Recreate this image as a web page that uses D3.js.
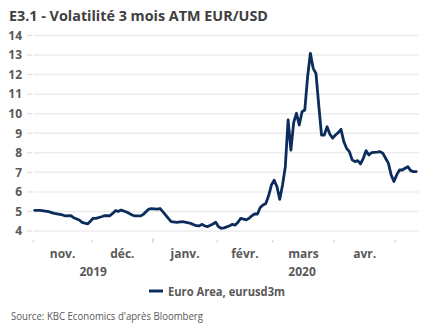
<!DOCTYPE html>
<html><head><meta charset="utf-8">
<script src="https://cdn.jsdelivr.net/npm/d3@7"></script>
<style>
html,body{margin:0;padding:0;background:#fff;}
svg{display:block;}
text{font-family:"Open Sans","Noto Sans",sans-serif;}
</style></head>
<body>
<script>
// ---- data ----
const title = "E3.1 - Volatilité 3 mois ATM EUR/USD";
const seriesName = "Euro Area, eurusd3m";
const source = "Source: KBC Economics d'après Bloomberg";
const yTicks = [4,5,6,7,8,9,10,11,12,13,14];
const monthLabels = ["nov.","déc.","janv.","févr.","mars","avr."];
const yearLabels = ["2019","2020"];
const axisStart = "2019-11-01";
const axisEnd = "2020-05-12";
const dates = [
"2019-11-01","2019-11-05","2019-11-08","2019-11-12","2019-11-15","2019-11-18","2019-11-20","2019-11-21","2019-11-25","2019-11-26","2019-11-28","2019-11-29",
"2019-12-02","2019-12-03","2019-12-05","2019-12-06","2019-12-10","2019-12-11","2019-12-12","2019-12-13","2019-12-16","2019-12-18","2019-12-20","2019-12-23","2019-12-25","2019-12-26","2019-12-30","2019-12-31",
"2020-01-02","2020-01-03","2020-01-06","2020-01-08","2020-01-09","2020-01-13","2020-01-15","2020-01-16","2020-01-20","2020-01-22","2020-01-23","2020-01-24","2020-01-27","2020-01-28","2020-01-30","2020-01-31",
"2020-02-03","2020-02-04","2020-02-05","2020-02-07","2020-02-10","2020-02-11","2020-02-12","2020-02-13","2020-02-17","2020-02-18","2020-02-19","2020-02-20","2020-02-21","2020-02-24","2020-02-25","2020-02-26","2020-02-27","2020-02-28",
"2020-03-02","2020-03-03","2020-03-04","2020-03-05","2020-03-06","2020-03-09","2020-03-10","2020-03-11","2020-03-12","2020-03-13","2020-03-16","2020-03-17","2020-03-18","2020-03-19","2020-03-20","2020-03-23","2020-03-24","2020-03-25","2020-03-26","2020-03-27","2020-03-30","2020-03-31",
"2020-04-01","2020-04-02","2020-04-03","2020-04-06","2020-04-07","2020-04-08","2020-04-09","2020-04-10","2020-04-13","2020-04-14","2020-04-15","2020-04-16","2020-04-17","2020-04-20","2020-04-22","2020-04-23","2020-04-24","2020-04-27","2020-04-28","2020-04-29","2020-04-30",
"2020-05-01","2020-05-04","2020-05-05","2020-05-06","2020-05-07","2020-05-08","2020-05-11","2020-05-12"
];
const vol = [
5.05,5.05,4.99,4.90,4.82,4.77,4.78,4.68,4.56,4.44,4.36,4.50,
4.65,4.65,4.73,4.78,4.78,4.90,5.04,5.00,5.07,4.97,4.82,4.77,4.77,4.85,5.12,5.15,
5.12,5.15,4.99,4.65,4.48,4.44,4.48,4.45,4.39,4.27,4.26,4.34,4.27,4.22,4.36,4.45,
4.22,4.14,4.16,4.27,4.34,4.30,4.45,4.65,4.57,4.65,4.78,4.87,4.87,5.20,5.33,5.41,5.80,6.35,
6.60,6.26,5.62,6.35,7.29,9.68,8.14,9.55,10.02,9.42,10.10,10.19,11.89,13.09,12.32,12.06,10.45,8.91,8.91,9.33,8.95,8.75,
8.91,9.03,9.20,8.57,8.23,8.06,7.64,7.55,7.60,7.43,7.72,8.11,7.89,8.01,8.03,8.06,7.98,7.72,7.47,6.87,6.53,
6.87,7.12,7.12,7.21,7.29,7.09,7.04,7.04
];

// ---- chart ----
const W = 434, H = 334;
const svg = d3.select("body").append("svg").attr("width", W).attr("height", H);
const parse = d3.utcParse("%Y-%m-%d");
const fmt = d3.utcFormat("%Y-%m-%d");

const allDays = d3.utcDay.range(parse(axisStart), d3.utcDay.offset(parse(axisEnd), 1))
  .filter(d => d.getUTCDay() !== 0 && d.getUTCDay() !== 6).map(fmt);

const x = d3.scaleBand().domain(allDays).range([33.3, 417.6]).padding(0);
const y = d3.scaleLinear().domain([4, 14]).range([231, 35.5]);
const xc = d => x(d) + x.bandwidth() / 2;

const gray = "#595959";

// title
svg.append("text").attr("x", 9).attr("y", 21)
  .attr("font-size", 15).attr("font-weight", 700).attr("fill", "#404040")
  .attr("textLength", 259).attr("lengthAdjust", "spacingAndGlyphs")
  .text(title);

// gridlines + y labels
const yAxis = svg.append("g");
yTicks.forEach(t => {
  yAxis.append("line").attr("x1", 33.3).attr("x2", 419).attr("y1", y(t)).attr("y2", y(t))
    .attr("stroke", "#ececec").attr("stroke-width", 1.5);
  yAxis.append("line").attr("x1", 27).attr("x2", 32).attr("y1", y(t)).attr("y2", y(t))
    .attr("stroke", "#d9d9d9").attr("stroke-width", 1);
  yAxis.append("text").attr("x", 22).attr("y", y(t) + 4.3).attr("text-anchor", "end")
    .attr("font-size", 12).attr("font-weight", 700).attr("fill", gray).text(t);
});

// month boundaries
const monthStarts = [];
allDays.forEach((d, i) => { if (i === 0 || d.slice(0, 7) !== allDays[i - 1].slice(0, 7)) monthStarts.push(d); });
const gx = svg.append("g");
monthStarts.forEach(d => {
  const isYear = d.slice(5, 7) === "01";
  gx.append("line").attr("x1", x(d)).attr("x2", x(d))
    .attr("y1", isYear ? 238 : 240.5).attr("y2", isYear ? 243 : 242.5)
    .attr("stroke", "#bfbfbf").attr("stroke-width", 1);
});
monthLabels.forEach((m, i) => {
  const cx = (x(monthStarts[i]) + x(monthStarts[i + 1])) / 2;
  gx.append("text").attr("x", cx).attr("y", 258).attr("text-anchor", "middle")
    .attr("font-size", 12).attr("font-weight", 700).attr("fill", gray).text(m);
});
// year labels
const y2019 = (x(monthStarts[0]) + x(monthStarts[2])) / 2;
const y2020 = xc("2020-03-16");
[y2019, y2020].forEach((cx, i) => {
  gx.append("text").attr("x", cx).attr("y", 276).attr("text-anchor", "middle")
    .attr("font-size", 12).attr("font-weight", 700).attr("fill", gray).text(yearLabels[i]);
});

// line
const data = dates.map((d, i) => ({ d, v: vol[i] }));
const navy = "#0c2d5c";
svg.append("path").datum(data)
  .attr("fill", "none").attr("stroke", navy).attr("stroke-width", 2.8)
  .attr("stroke-linejoin", "round").attr("stroke-linecap", "round")
  .attr("d", d3.line().x(p => xc(p.d)).y(p => y(p.v)));

// legend
svg.append("line").attr("x1", 149).attr("x2", 163).attr("y1", 291).attr("y2", 291)
  .attr("stroke", navy).attr("stroke-width", 3);
svg.append("text").attr("x", 168).attr("y", 295.5)
  .attr("font-size", 12).attr("font-weight", 700).attr("fill", gray)
  .attr("textLength", 117).attr("lengthAdjust", "spacingAndGlyphs")
  .text(seriesName);

// source
svg.append("text").attr("x", 11).attr("y", 320)
  .attr("font-size", 10.5).attr("fill", gray)
  .attr("textLength", 192).attr("lengthAdjust", "spacingAndGlyphs")
  .text(source);
</script>
</body></html>
